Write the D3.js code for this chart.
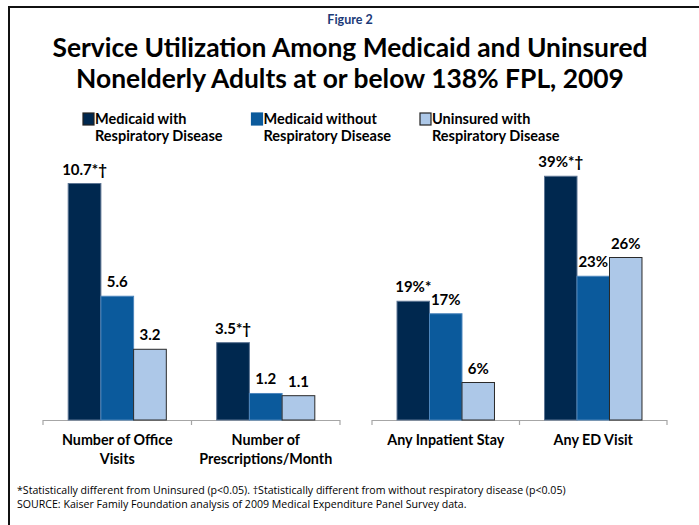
<!DOCTYPE html>
<html>
<head>
<meta charset="utf-8">
<script src="https://cdn.jsdelivr.net/npm/d3@7"></script>
<style>
body { margin: 0; background: #fff; }
svg { display: block; font-family: Lato, "Open Sans", sans-serif; }
</style>
</head>
<body>
<script>
// data
var series = ["Medicaid with Respiratory Disease", "Medicaid without Respiratory Disease", "Uninsured with Respiratory Disease"];
var legendLines = [["Medicaid with", "Respiratory Disease"], ["Medicaid without", "Respiratory Disease"], ["Uninsured with", "Respiratory Disease"]];
var colors = ["#00284f", "#0b5a9c", "#adc8e8"];
var strokes = ["#5d7594", "#4d86bd", "#2a2a2a"];

var countCats = ["Number of Office Visits", "Number of Prescriptions/Month"];
var countLabels = [["Number of Office", "Visits"], ["Number of", "Prescriptions/Month"]];
var countValues = [[10.7, 5.6, 3.2], [3.5, 1.2, 1.1]];
var countText = [["10.7*\u2020", "5.6", "3.2"], ["3.5*\u2020", "1.2", "1.1"]];

var pctCats = ["Any Inpatient Stay", "Any ED Visit"];
var pctLabels = [["Any Inpatient Stay"], ["Any ED Visit"]];
var pctValues = [[19, 17, 6], [39, 23, 26]];
var pctText = [["19%*", "17%", "6%"], ["39%*\u2020", "23%", "26%"]];

var W = 699, H = 525;
var base = 420;

var svg = d3.select("body").append("svg")
    .attr("width", W)
    .attr("height", H);

// slide frame (left + top edge only visible)
svg.append("path")
    .attr("d", "M9,525 L9,7 L699,7")
    .attr("fill", "none")
    .attr("stroke", "#111")
    .attr("stroke-width", 2);

svg.append("text")
    .attr("x", 350).attr("y", 24)
    .attr("text-anchor", "middle")
    .attr("font-size", 12.5).attr("font-weight", "bold")
    .attr("fill", "#1c3a78")
    .text("Figure 2");

var titleLines = ["Service Utilization Among Medicaid and Uninsured", "Nonelderly Adults at or below 138% FPL, 2009"];
svg.selectAll(".title").data(titleLines).enter().append("text")
    .attr("x", 350)
    .attr("y", function(d, i) { return 57 + i * 31; })
    .attr("text-anchor", "middle")
    .attr("font-size", 26.4).attr("font-weight", "bold")
    .attr("fill", "#000")
    .text(function(d) { return d; });

// legend
var legX = d3.scalePoint().domain(series).range([83, 420]);
var leg = svg.selectAll(".leg").data(series).enter().append("g")
    .attr("transform", function(d) { return "translate(" + legX(d) + ",113)"; });
leg.append("rect")
    .attr("width", 11).attr("height", 12)
    .attr("fill", function(d, i) { return colors[i]; })
    .attr("stroke", function(d, i) { return i == 1 ? colors[1] : "#222"; })
    .attr("stroke-width", 1.2);
leg.each(function(d, i) {
    d3.select(this).selectAll("text").data(legendLines[i]).enter().append("text")
        .attr("x", 12)
        .attr("y", function(t, j) { return 11 + j * 17; })
        .attr("font-size", 14.5).attr("font-weight", "bold")
        .text(function(t) { return t; });
});

function panel(cats, labels, values, texts, xr, yScale) {
    var x0 = d3.scaleBand().domain(cats).range(xr);
    var x1 = d3.scaleBand().domain(series).range([0, x0.bandwidth()]).paddingOuter(0.77);

    // baseline + boundary ticks
    svg.append("line")
        .attr("x1", xr[0]).attr("x2", xr[1])
        .attr("y1", base + 0.5).attr("y2", base + 0.5)
        .attr("stroke", "#a6a6a6").attr("stroke-width", 1.2);
    var bounds = cats.map(function(c) { return x0(c); }).concat([xr[1]]);
    svg.selectAll(null).data(bounds).enter().append("line")
        .attr("x1", function(d) { return d; }).attr("x2", function(d) { return d; })
        .attr("y1", base).attr("y2", base + 5)
        .attr("stroke", "#a6a6a6").attr("stroke-width", 1.2);

    var g = svg.selectAll(null).data(cats).enter().append("g")
        .attr("transform", function(d) { return "translate(" + x0(d) + ",0)"; });

    g.each(function(c, ci) {
        var grp = d3.select(this);
        var rows = series.map(function(s, si) { return {s: s, i: si, v: values[ci][si], t: texts[ci][si]}; });
        grp.selectAll("rect").data(rows).enter().append("rect")
            .attr("x", function(d) { return x1(d.s); })
            .attr("width", x1.bandwidth())
            .attr("y", function(d) { return yScale(d.v); })
            .attr("height", function(d) { return base - yScale(d.v); })
            .attr("fill", function(d) { return colors[d.i]; })
            .attr("stroke", function(d) { return strokes[d.i]; })
            .attr("stroke-width", 1);
        grp.selectAll(".val").data(rows).enter().append("text")
            .attr("x", function(d) { return x1(d.s) + x1.bandwidth() / 2; })
            .attr("y", function(d) { return yScale(d.v) - 9; })
            .attr("text-anchor", "middle")
            .attr("font-size", 15).attr("font-weight", "bold")
            .text(function(d) { return d.t; });
        grp.selectAll(".cat").data(labels[ci]).enter().append("text")
            .attr("x", x0.bandwidth() / 2)
            .attr("y", function(t, j) { return 445 + j * 19; })
            .attr("text-anchor", "middle")
            .attr("font-size", 14.3).attr("font-weight", "bold")
            .text(function(t) { return t; });
    });
}

var yCount = d3.scaleLinear().domain([0, 12]).range([base, base - 12 * 22.1]);
var yPct = d3.scaleLinear().domain([0, 40]).range([base, base - 40 * 6.25]);

panel(countCats, countLabels, countValues, countText, [43, 340], yCount);
panel(pctCats, pctLabels, pctValues, pctText, [372, 667], yPct);

// footnotes
var notes = ["*Statistically different from Uninsured (p<0.05). \u2020Statistically different from without respiratory disease (p<0.05)",
             "SOURCE: Kaiser Family Foundation analysis of 2009 Medical Expenditure Panel Survey data."];
svg.selectAll(".note").data(notes).enter().append("text")
    .attr("x", 17)
    .attr("y", function(d, i) { return 494 + i * 14; })
    .attr("font-size", 10.6)
    .attr("font-family", "'Liberation Sans Narrow', 'Open Sans', sans-serif")
    .text(function(d) { return d; });
</script>
</body>
</html>
